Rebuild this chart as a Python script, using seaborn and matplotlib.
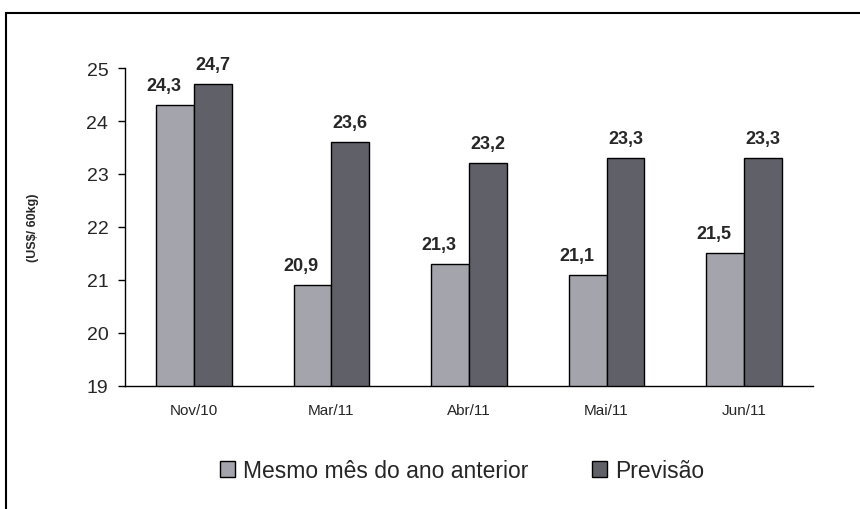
# Bar chart: same month of previous year vs forecast (US$/60kg)

import pandas as pd
import matplotlib
matplotlib.use("Agg")
import matplotlib.pyplot as plt
import seaborn as sns
from matplotlib.patches import Rectangle

months = ["Nov/10", "Mar/11", "Abr/11", "Mai/11", "Jun/11"]
anterior = [24.3, 20.9, 21.3, 21.1, 21.5]
previsao = [24.7, 23.6, 23.2, 23.3, 23.3]
series_names = ["Mesmo mês do ano anterior", "Previsão"]
yticks = [19, 20, 21, 22, 23, 24, 25]


def main():
    df = pd.DataFrame({
        "Mes": months * 2,
        "Serie": [series_names[0]] * len(months) + [series_names[1]] * len(months),
        "Valor": anterior + previsao,
    })

    sns.set_style("white")
    plt.rcParams["font.family"] = ["Liberation Sans", "DejaVu Sans"]

    fig = plt.figure(figsize=(8.6, 5.1), dpi=100)
    ax = fig.add_axes([0.1453, 0.2412, 0.80, 0.6235])

    sns.barplot(data=df, x="Mes", y="Valor", hue="Serie", order=months,
                hue_order=series_names, palette=["#a4a4ac", "#606068"],
                width=0.55, edgecolor="black", linewidth=1, saturation=1,
                ax=ax)

    ax.set_ylim(19, 25)
    ax.set_xlim(-0.5, len(months) - 0.5)
    ax.set_yticks(yticks)
    ax.set_yticklabels([str(t) for t in yticks], fontsize=14)
    ax.set_xticks(range(len(months)))
    ax.set_xticklabels(months, fontsize=11)
    ax.tick_params(axis="x", which="major", length=0, pad=12)
    ax.set_xticks([i - 0.5 for i in range(len(months) + 1)], minor=True)
    ax.tick_params(axis="x", which="minor", length=5, width=1, color="black", direction="out")
    ax.tick_params(axis="y", length=5, width=1, color="black", direction="out", left=True, pad=7)
    ax.set_xlabel("")
    ax.set_ylabel("(US$/ 60kg)", fontsize=9, fontweight="bold", labelpad=34)

    for s in ["top", "right"]:
        ax.spines[s].set_visible(False)
    for s in ["left", "bottom"]:
        ax.spines[s].set_color("black")
        ax.spines[s].set_linewidth(1)

    # value labels (comma decimal)
    for k, cont in enumerate(ax.containers):
        vals = anterior if k == 0 else previsao
        dx = -8 if k == 0 else 0
        for bar, v in zip(cont, vals):
            ax.annotate(f"{v:.1f}".replace(".", ","),
                        (bar.get_x() + bar.get_width() / 2, bar.get_height()),
                        xytext=(dx, 8), textcoords="offset points",
                        ha="center", va="bottom", fontsize=13, fontweight="bold")

    handles, labels = ax.get_legend_handles_labels()
    ax.legend(handles, labels, loc="upper center", bbox_to_anchor=(0.49, -0.165),
              ncol=2, frameon=False, fontsize=16.5, handlelength=0.65, handleheight=0.65,
              handletextpad=0.35, columnspacing=2.8)

    # outer chart frame
    fig.patches.append(Rectangle((6 / 860, -0.1), 1.2, 1.1 - 14 / 510,
                                 transform=fig.transFigure, fill=False,
                                 edgecolor="black", linewidth=1.5))

    fig.savefig("out.png", dpi=100)


if __name__ == "__main__":
    main()
